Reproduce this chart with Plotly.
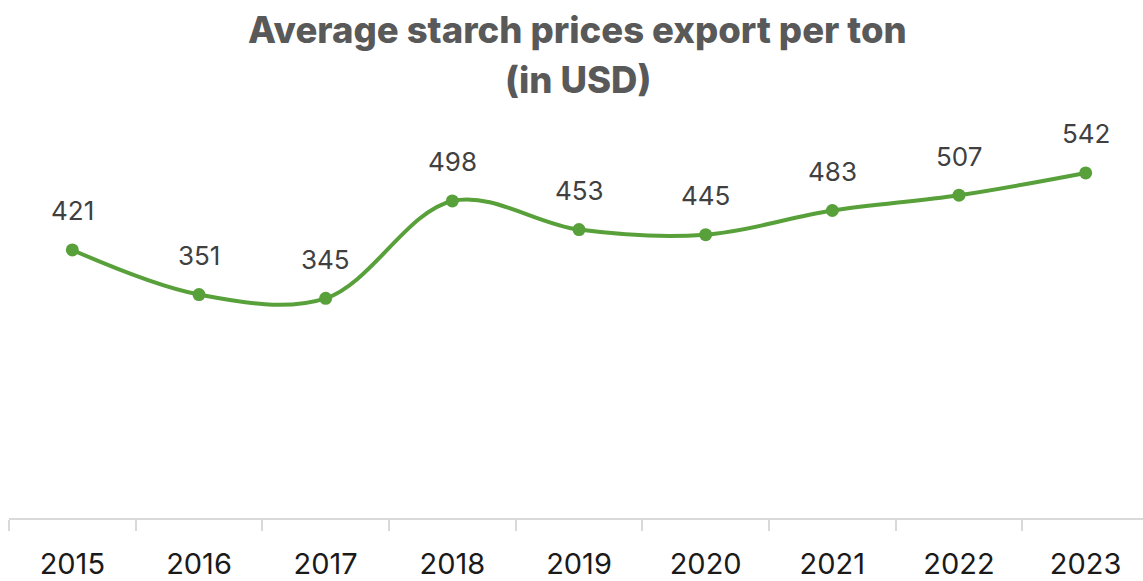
import plotly.graph_objects as go

years = ["2015", "2016", "2017", "2018", "2019", "2020", "2021", "2022", "2023"]
prices = [421, 351, 345, 498, 453, 445, 483, 507, 542]
title_lines = ["Average starch prices export per ton", "(in USD)"]

fig = go.Figure()
fig.add_trace(go.Scatter(
    x=years, y=prices, mode="lines+markers",
    line=dict(color="#58A03A", width=4, shape="spline", smoothing=1.0),
    marker=dict(color="#58A03A", size=13),
    hoverinfo="x+y",
))
for i, y in enumerate(prices):
    fig.add_annotation(x=i, y=y, xref="x", yref="y", text=str(y), showarrow=False,
                       yshift=39,
                       font=dict(family="Inter", size=26, color="#404040"))

# title lines placed as paper annotations
for line, py in zip(title_lines, [1.278, 1.147]):
    fig.add_annotation(xref="paper", yref="paper", x=0.499, y=py, text=line,
                       showarrow=False, xanchor="center", yanchor="middle",
                       font=dict(family="Inter", size=36.5, color="#595959", weight=800))

fig.update_layout(
    width=1149, height=581,
    margin=dict(l=9, r=0, t=136, b=58),
    paper_bgcolor="white", plot_bgcolor="white",
    showlegend=False,
    xaxis=dict(type="category", showgrid=False, showline=True, linecolor="#D9D9D9",
               linewidth=2, ticks="outside", tickson="boundaries", ticklen=11,
               tickcolor="#D9D9D9", tickwidth=2,
               tickfont=dict(family="Inter", size=29, color="#1a1a1a"),
               ticklabelstandoff=19, range=[-0.5, 8.5]),
    yaxis=dict(range=[0, 600], showgrid=False, zeroline=False, showline=False,
               showticklabels=False, ticks=""),
)
fig.write_html("out.html", config={"displayModeBar": False},
               post_script="document.body.style.margin='0';document.body.style.overflow='hidden';")
